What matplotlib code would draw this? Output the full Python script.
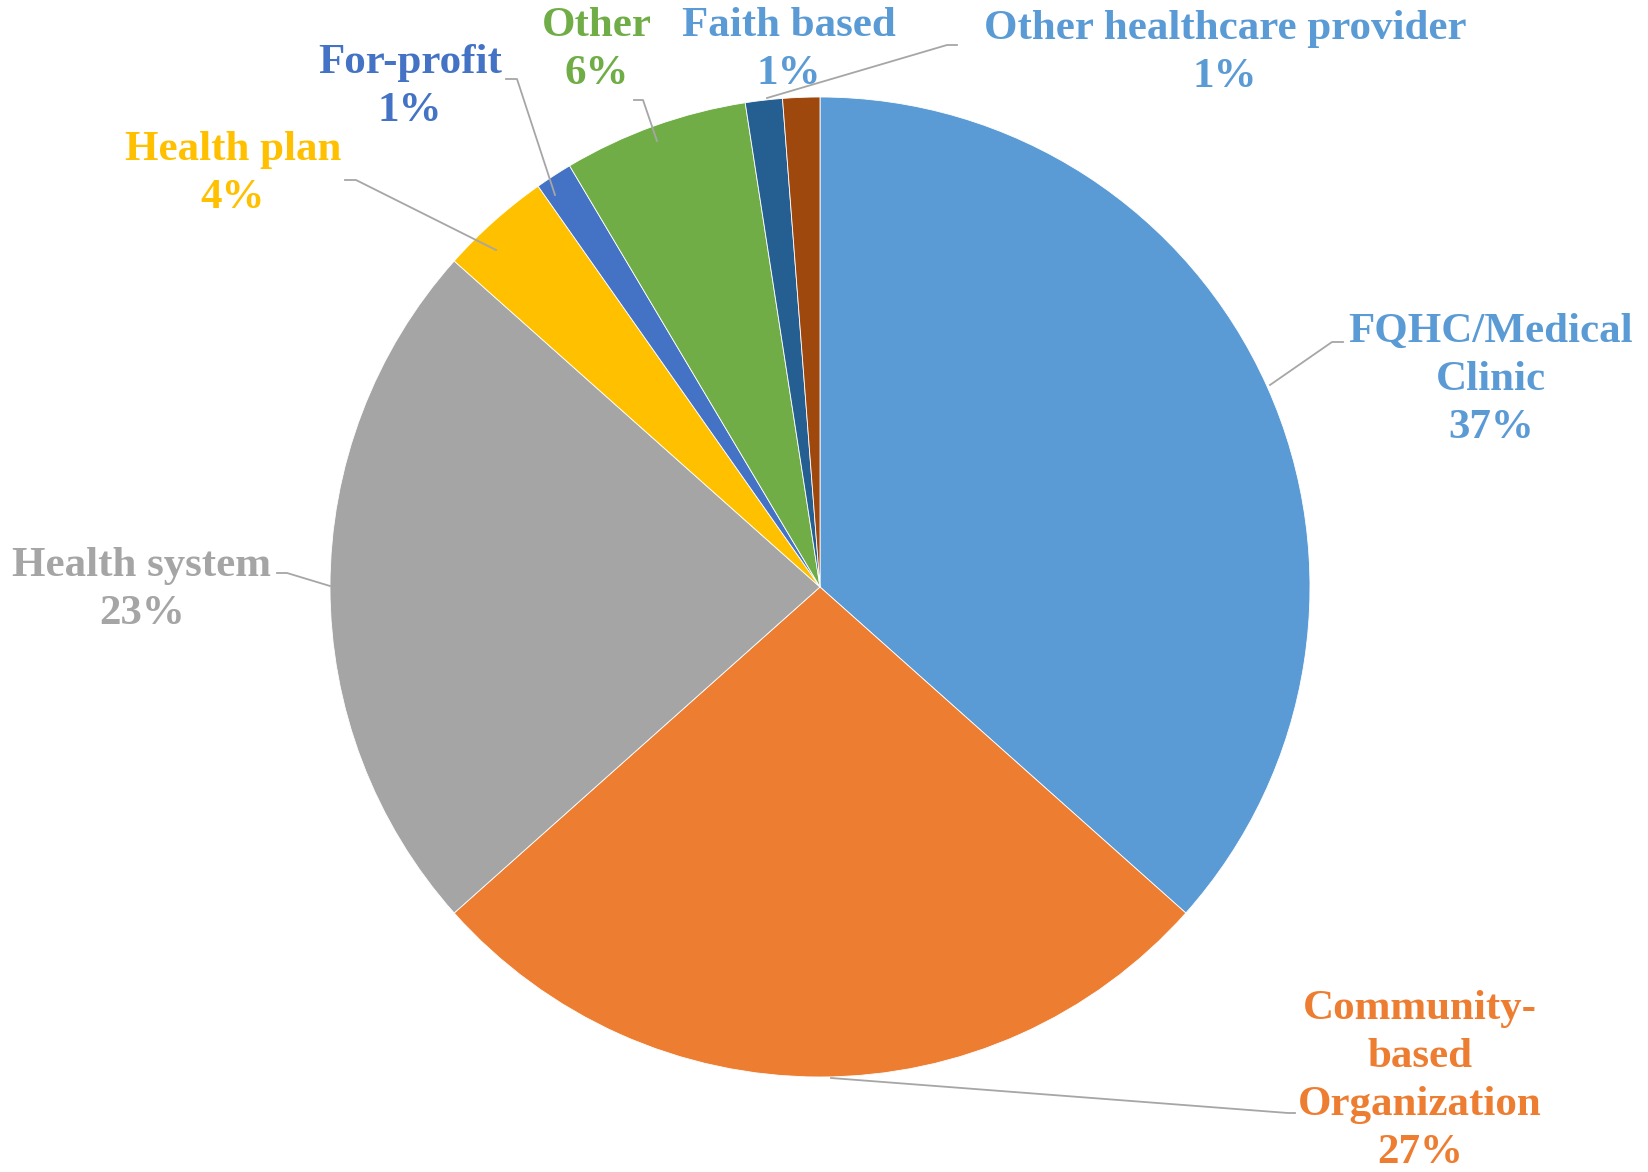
import matplotlib
matplotlib.use("Agg")
import matplotlib.pyplot as plt

categories = ["FQHC/Medical\nClinic", "Community-\nbased\nOrganization", "Health system",
              "Health plan", "For-profit", "Other", "Faith based", "Other healthcare provider"]
values = [30, 22, 19, 3, 1, 5, 1, 1]
slice_colors = ["#5B9BD5", "#ED7D31", "#A5A5A5", "#FFC000", "#4472C4", "#70AD47", "#255E91", "#9E480E"]
label_colors = ["#5B9BD5", "#ED7D31", "#A5A5A5", "#FFC000", "#4472C4", "#70AD47", "#5B9BD5", "#5B9BD5"]

W, H = 1649, 1172
# label layout (pixel coords, top-left origin): text center x, first line center y
label_pos = [(1491, 329), (1420, 1006), (142, 563), (233, 147), (410, 60), (597, 23), (789, 23), (1225, 26)]
leaders = [
    [(1270, 385), (1332, 342), (1343, 342)],
    [(831, 1078), (1288, 1113), (1295, 1113)],
    [(330, 586), (287, 573), (277, 573)],
    [(496, 250), (356, 180), (345, 180)],
    [(555, 195), (517, 79), (506, 79)],
    [(657, 141), (643, 100), (634, 100)],
    None,
    [(767, 98), (947, 45), (957, 45)],
]

fig = plt.figure(figsize=(W / 100, H / 100), dpi=100)
ax = fig.add_axes([0, 0, 1, 1])

ax.pie(values, colors=slice_colors, startangle=90, counterclock=False,
       center=(820, H - 587), radius=490, frame=True,
       wedgeprops=dict(linewidth=0.6, edgecolor="white"))
ax.set_xlim(0, W)
ax.set_ylim(0, H)
ax.set_aspect("equal")
ax.axis("off")

total = sum(values)
fs = 31
for cat, v, col, (x, y), ld in zip(categories, values, label_colors, label_pos, leaders):
    pct = round(100 * v / total)
    txt = f"{cat}\n{pct}%"
    ax.text(x, H - (y - 16), txt, ha="center", va="top", color=col, fontsize=fs,
            fontfamily="Liberation Serif", fontweight="bold", linespacing=1.34,
            transform=ax.transData)
    if ld is not None:
        xs = [p[0] for p in ld]
        ys = [H - p[1] for p in ld]
        ax.plot(xs, ys, color="#A6A6A6", lw=1.3, zorder=5)

fig.savefig("out.png", dpi=100, facecolor="white")
